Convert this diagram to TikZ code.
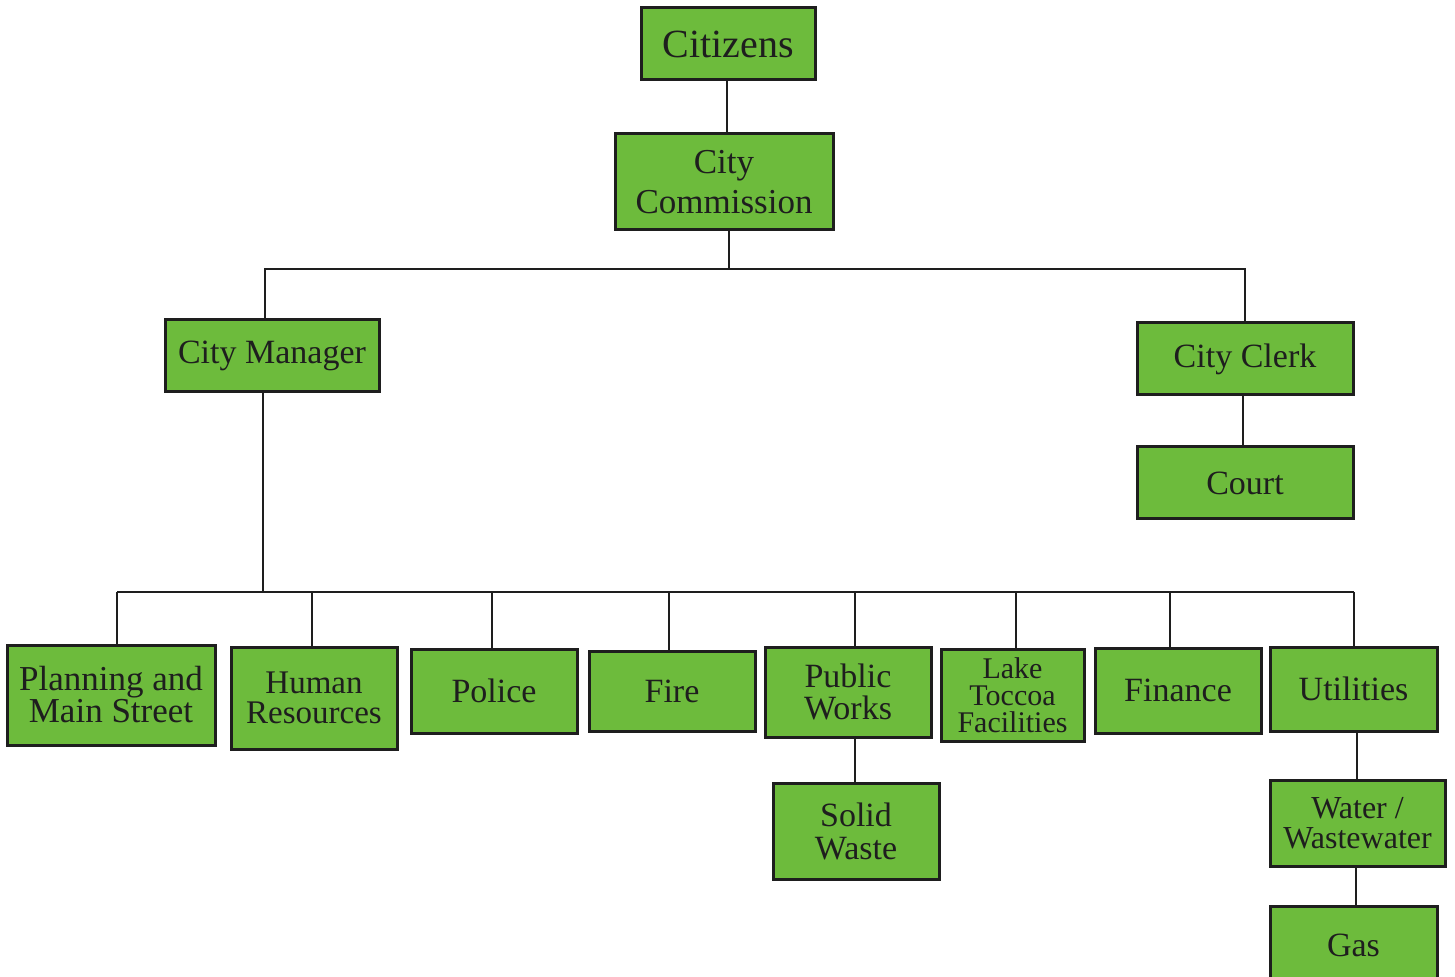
\documentclass[tikz,border=0pt]{standalone}
\usepackage{fontspec}
\setmainfont{Liberation Serif}
\definecolor{boxgreen}{HTML}{6DBB3C}
\definecolor{ink}{HTML}{1E1E1E}
\begin{document}
\begin{tikzpicture}[x=0.5pt,y=-0.5pt,
  box/.style={draw=ink,line width=1.5pt,fill=boxgreen,align=center,inner sep=0pt,text=ink,font=\fontsize{17}{16}\selectfont},
  conn/.style={draw=ink,line width=1pt}]
\useasboundingbox (0,0) rectangle (1455,977);
\clip (0,0) rectangle (1455,977);
\node[box,minimum width=87pt,minimum height=36pt,font=\fontsize{20}{20}\selectfont] (cit) at (728,44) {Citizens};
\node[box,minimum width=109pt,minimum height=48pt,font=\fontsize{17.5}{20}\selectfont] (com) at (724,182) {City\\Commission};
\node[box,minimum width=107pt,minimum height=36pt] (man) at (272,356) {City Manager};
\node[box,minimum width=108pt,minimum height=36pt] (clerk) at (1245,359) {City Clerk};
\node[box,minimum width=108pt,minimum height=36pt] (court) at (1245,483) {Court};
\node[box,minimum width=104pt,minimum height=50pt,font=\fontsize{17.5}{16}\selectfont] (plan) at (111,695) {Planning and\\Main Street};
\node[box,minimum width=83pt,minimum height=51pt,font=\fontsize{16.5}{15}\selectfont] (hr) at (314,698) {Human\\Resources};
\node[box,minimum width=83pt,minimum height=42pt] (pol) at (494,691) {Police};
\node[box,minimum width=83pt,minimum height=40pt] (fire) at (672,691) {Fire};
\node[box,minimum width=83pt,minimum height=45pt] (pw) at (848,692) {Public\\Works};
\node[box,minimum width=71.5pt,minimum height=46pt,font=\fontsize{15}{13.5}\selectfont] (lake) at (1012.5,695) {Lake\\Toccoa\\Facilities};
\node[box,minimum width=83pt,minimum height=42.5pt] (fin) at (1178,690.5) {Finance};
\node[box,minimum width=83.5pt,minimum height=42pt] (util) at (1353.5,689) {Utilities};
\node[box,minimum width=83pt,minimum height=48pt,font=\fontsize{17}{16.5}\selectfont] (solid) at (856,831) {Solid\\Waste};
\node[box,minimum width=87.5pt,minimum height=43pt,font=\fontsize{16}{15}\selectfont] (water) at (1357.5,823) {Water /\\Wastewater};
\node[box,minimum width=83.5pt,minimum height=39.5pt] (gas) at (1353.5,945.5) {Gas};
% top chain
\draw[conn] ([xshift=-0.5pt]cit.south) -- ([xshift=-0.5pt]cit.south |- com.north);
\coordinate (busA) at (729,269);
\draw[conn] (com.south -| busA) -- (busA);
\draw[conn] ([xshift=-3.5pt]man.north) |- (busA) -| (clerk.north);
\draw[conn] ([xshift=-1pt]clerk.south) -- ([xshift=-1pt]court.north);
% manager bus
\coordinate (busL) at (117,592);
\coordinate (busR) at (1354,592);
\draw[conn] ([xshift=-4.5pt]man.south) -- ([xshift=-4.5pt]man.south |- busL);
\draw[conn] (busL) -- (busR);
\draw[conn] ([xshift=3pt]plan.north) -- ([xshift=3pt]plan.north |- busL);
\draw[conn] ([xshift=-1pt]hr.north) -- ([xshift=-1pt]hr.north |- busL);
\draw[conn] ([xshift=-1pt]pol.north) -- ([xshift=-1pt]pol.north |- busL);
\draw[conn] ([xshift=-1.5pt]fire.north) -- ([xshift=-1.5pt]fire.north |- busL);
\draw[conn] ([xshift=3.5pt]pw.north) -- ([xshift=3.5pt]pw.north |- busL);
\draw[conn] ([xshift=1.5pt]lake.north) -- ([xshift=1.5pt]lake.north |- busL);
\draw[conn] ([xshift=-4pt]fin.north) -- ([xshift=-4pt]fin.north |- busL);
\draw[conn] (util.north) -- (util.north |- busL);
% sub chains
\draw[conn] ([xshift=3.5pt]pw.south) -- ([xshift=3.5pt]pw.south |- solid.north);
\draw[conn] ([xshift=1.5pt]util.south) -- ([xshift=1.5pt]util.south |- water.north);
\draw[conn] ([xshift=-1pt]water.south) -- ([xshift=-1pt]water.south |- gas.north);
\end{tikzpicture}
\end{document}
